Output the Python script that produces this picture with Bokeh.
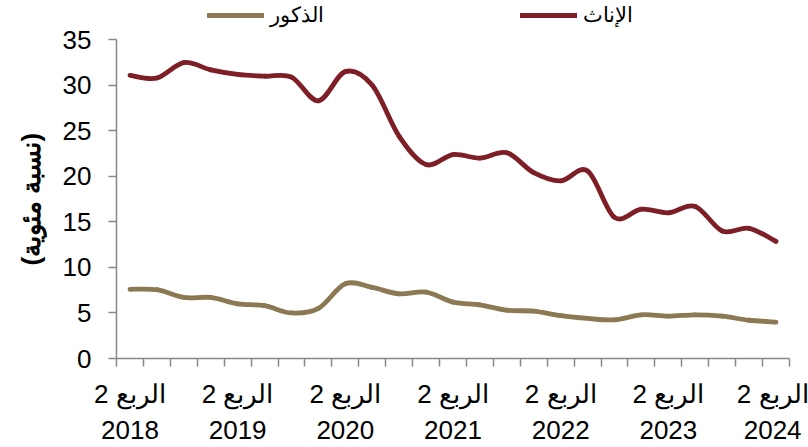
from bokeh.plotting import figure
from bokeh.models import Range1d, FixedTicker, Legend, LegendItem, ColumnDataSource, Title
from bokeh.embed import file_html
from bokeh.resources import INLINE

# ---- data (Q2 2018 .. Q2 2024, quarterly) ----
quarter_index = list(range(25))
females = [31.1, 30.8, 32.5, 31.7, 31.2, 31.0, 30.9, 28.3, 31.5, 30.0,
           24.4, 21.3, 22.4, 22.0, 22.6, 20.4, 19.5, 20.6, 15.5, 16.4,
           16.0, 16.7, 14.0, 14.3, 12.85]
males = [7.6, 7.55, 6.7, 6.7, 6.0, 5.8, 5.0, 5.5, 8.2, 7.8,
         7.1, 7.3, 6.2, 5.9, 5.3, 5.2, 4.7, 4.4, 4.25, 4.8,
         4.65, 4.8, 4.65, 4.2, 4.0]
label_positions = [0, 4, 8, 12, 16, 20, 24]
x_labels = ["الربع 2\n2018", "الربع 2\n2019", "الربع 2\n2020", "الربع 2\n2021",
            "الربع 2\n2022", "الربع 2\n2023", "الربع 2\n2024"]
y_ticks = [0, 5, 10, 15, 20, 25, 30, 35]
y_axis_max = 35
y_title = "(نسبة مئوية)"
series_names = ["الذكور", "الإناث"]
colors = ["#8C7853", "#7E1F27"]

FONT = "Liberation Sans"


def smooth_segments(xs, ys):
    """Catmull-Rom style cubic Bezier control points for a smoothed line."""
    n = len(xs)
    seg = dict(x0=[], y0=[], x1=[], y1=[], cx0=[], cy0=[], cx1=[], cy1=[])
    for i in range(n - 1):
        xp, yp = (xs[i - 1], ys[i - 1]) if i > 0 else (xs[i], ys[i])
        xn2, yn2 = (xs[i + 2], ys[i + 2]) if i + 2 < n else (xs[i + 1], ys[i + 1])
        seg["x0"].append(xs[i]); seg["y0"].append(ys[i])
        seg["x1"].append(xs[i + 1]); seg["y1"].append(ys[i + 1])
        seg["cx0"].append(xs[i] + (xs[i + 1] - xp) / 6.0)
        seg["cy0"].append(ys[i] + (ys[i + 1] - yp) / 6.0)
        seg["cx1"].append(xs[i + 1] - (xn2 - xs[i]) / 6.0)
        seg["cy1"].append(ys[i + 1] - (yn2 - ys[i]) / 6.0)
    return ColumnDataSource(seg)


# frame extends to the top of the canvas so the legend can sit inside it;
# the visible y axis is bounded to 0..35
p = figure(width=808, height=447, output_backend="svg", toolbar_location=None,
           x_range=Range1d(-0.5, 24.5), y_range=Range1d(0, y_axis_max * 360 / 320.5),
           min_border_left=114, min_border_right=19,
           min_border_top=0, min_border_bottom=87)
p.outline_line_color = None
p.xgrid.visible = False
p.ygrid.visible = False
p.background_fill_color = "white"
p.border_fill_color = "white"

renderers = []
for vals, col in zip([males, females], colors):
    src = smooth_segments(quarter_index, vals)
    r = p.bezier(x0="x0", y0="y0", x1="x1", y1="y1", cx0="cx0", cy0="cy0",
                 cx1="cx1", cy1="cy1", source=src, line_color=col,
                 line_width=4.8, line_cap="round")
    renderers.append(r)

# x axis
xa = p.xaxis[0]
xa.ticker = FixedTicker(ticks=label_positions,
                        minor_ticks=[i - 0.5 for i in range(26)])
xa.major_label_overrides = {pos: lab for pos, lab in zip(label_positions, x_labels)}
xa.major_tick_line_color = None
xa.major_tick_out = 8
xa.major_tick_in = 0
xa.minor_tick_out = 8
xa.minor_tick_in = 0
xa.minor_tick_line_color = "#888888"
xa.minor_tick_line_width = 1.5
xa.axis_line_color = "#888888"
xa.axis_line_width = 1.5
xa.major_label_text_font = FONT
xa.major_label_text_font_size = "26px"
xa.major_label_text_color = "black"
xa.major_label_standoff = 12

# y axis
ya = p.yaxis[0]
ya.bounds = (0, y_axis_max)
ya.ticker = FixedTicker(ticks=y_ticks, minor_ticks=[])
ya.major_tick_out = 8
ya.major_tick_in = 0
ya.major_tick_line_color = "#888888"
ya.major_tick_line_width = 1.5
ya.axis_line_color = "#888888"
ya.axis_line_width = 1.5
ya.major_label_text_font = FONT
ya.major_label_text_font_size = "26px"
ya.major_label_text_color = "black"
ya.major_label_standoff = 17

# y-axis title as a left-side Title, anchored from the bottom of the frame
ytitle = Title(text=y_title, align="left", offset=93, standoff=27,
               text_font=FONT, text_font_size="26px", text_font_style="bold",
               text_color="black")
p.add_layout(ytitle, "left")

legend = Legend(items=[LegendItem(label=n, renderers=[r]) for n, r in zip(series_names, renderers)],
                orientation="horizontal", location=(91, 331),
                glyph_width=57, glyph_height=20, label_height=20,
                label_standoff=6, spacing=196, padding=0, margin=0,
                border_line_color=None, background_fill_alpha=0,
                label_text_font=FONT, label_text_font_size="21px",
                label_text_color="black")
p.add_layout(legend, "center")

open("out.html", "w").write(file_html(p, INLINE))
